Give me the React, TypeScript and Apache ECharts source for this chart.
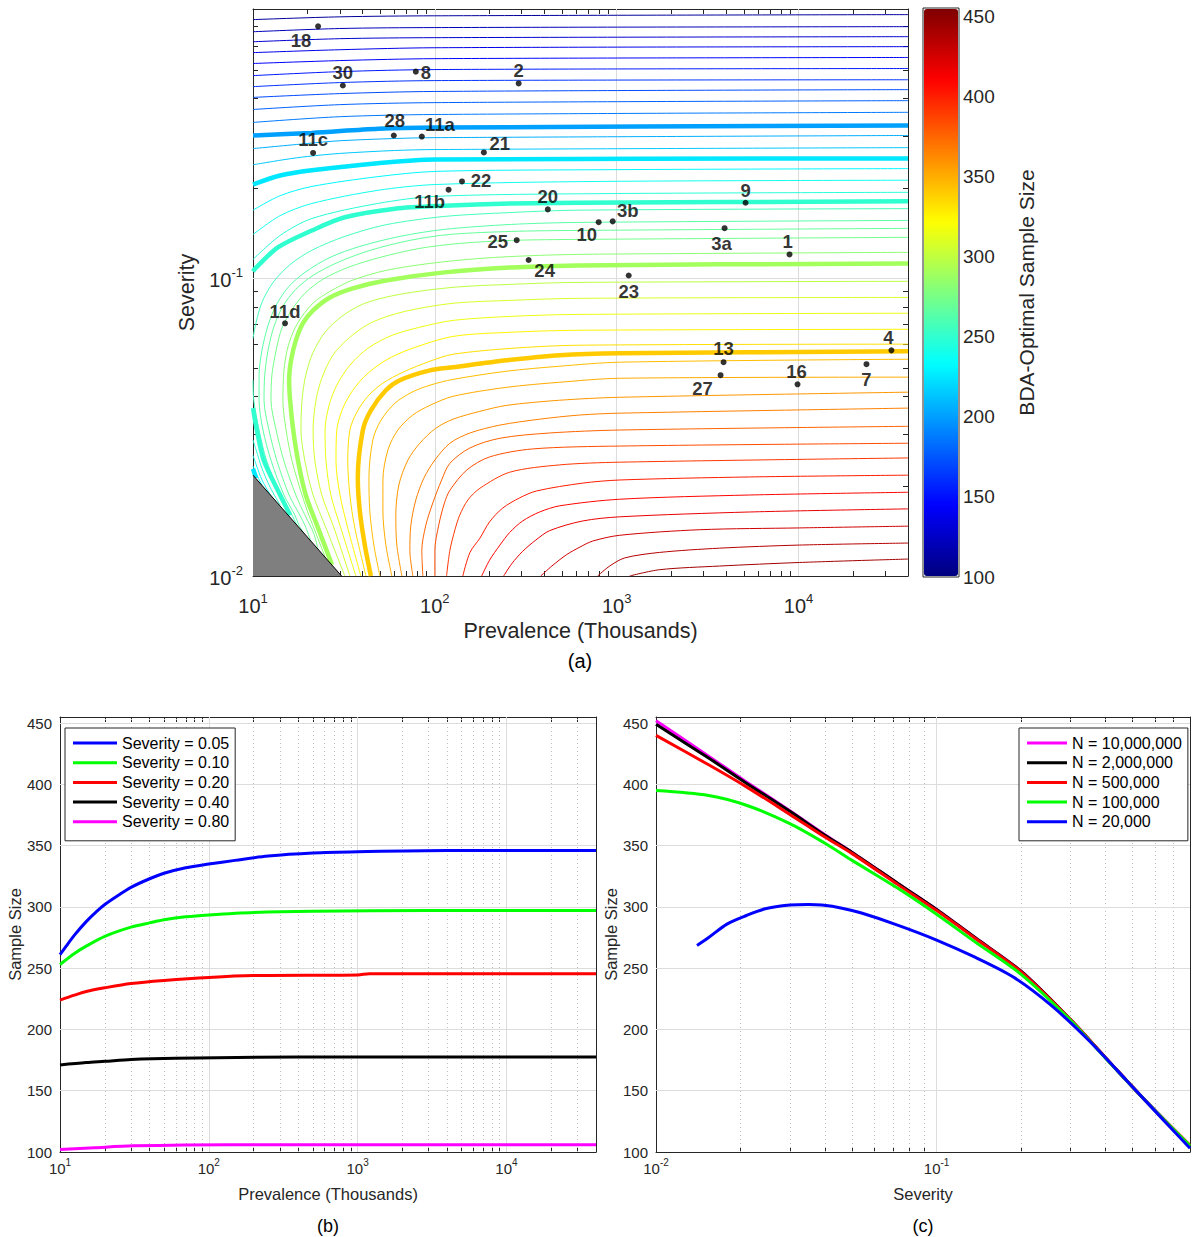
import React, { useEffect, useRef } from 'react';
import * as echarts from 'echarts';

const FONT = '"Liberation Sans", Arial, Helvetica, sans-serif';
const AXIS_COLOR = '#262626';
const GRID_MAJOR = '#DCDCDC';
const GRID_MINOR = '#BDBDBD';

// ---------------- (a) contour plot data ----------------
// Sample-size level of each contour line (one entry per drawn path)
const contourLevels = [
  110, 120, 128, 136, 144, 153, 162, 170, 178, 187,
  200, 205, 214, 225, 225, 231, 231, 239, 239, 247, 247, 250, 250, 257, 257,
  264, 268, 273, 282, 290, 299, 308, 316, 325, 333, 340,
  345, 351, 358, 366, 376, 384, 392, 401, 409, 418, 427, 436, 443,
];
const highlightedLevels = [200, 225, 250, 290, 340];

// [prevalence (thousands), severity] points along each contour
const contourPaths: number[][][] = [
  [[10, 0.737], [30, 0.753], [100, 0.759], [40000, 0.766]],
  [[10, 0.671], [30, 0.688], [100, 0.693], [40000, 0.698]],
  [[10, 0.621], [30, 0.636], [100, 0.641], [40000, 0.646]],
  [[10, 0.571], [30, 0.584], [100, 0.593], [40000, 0.598]],
  [[10, 0.525], [30, 0.537], [100, 0.545], [40000, 0.55]],
  [[10, 0.478], [30, 0.493], [100, 0.501], [40000, 0.505]],
  [[10, 0.439], [30, 0.453], [100, 0.46], [40000, 0.463]],
  [[10, 0.404], [30, 0.416], [100, 0.423], [40000, 0.429]],
  [[10, 0.368], [30, 0.382], [100, 0.388], [40000, 0.394]],
  [[10, 0.333], [30, 0.348], [100, 0.354], [40000, 0.36]],
  [[10, 0.301], [21, 0.307], [49, 0.317], [100, 0.32], [40000, 0.325]],
  [[10, 0.272], [20, 0.283], [30, 0.289], [60, 0.294], [100, 0.296], [40000, 0.301]],
  [[10, 0.24], [15, 0.25], [20, 0.256], [30, 0.262], [60, 0.268], [100, 0.27], [40000, 0.274]],
  [[10, 0.206], [14.1, 0.221], [21.1, 0.23], [48.6, 0.243], [100, 0.25], [40000, 0.252]],
  [[10, 0.0229], [10.4, 0.0213]],
  [[10, 0.169], [14.1, 0.189], [21.1, 0.203], [48.6, 0.219], [100, 0.228], [800, 0.231], [40000, 0.233]],
  [[10, 0.0234], [10.4, 0.0221], [11.2, 0.0202]],
  [[10, 0.14], [14.1, 0.162], [21.1, 0.178], [48.6, 0.197], [100, 0.206], [800, 0.211], [40000, 0.213]],
  [[10, 0.0254], [10.4, 0.0237], [11.2, 0.021], [12.6, 0.0185]],
  [[10, 0.1155], [14.1, 0.139], [21.1, 0.1585], [48.6, 0.178], [100, 0.188], [800, 0.192], [40000, 0.194]],
  [[10, 0.0286], [10.4, 0.0265], [11.2, 0.023], [12.4, 0.0199], [14.1, 0.0173]],
  [[10, 0.1053], [10.3, 0.1078], [13.7, 0.1267], [21.1, 0.1445], [32, 0.16], [60.3, 0.171], [113, 0.175], [265, 0.178], [611, 0.179], [40000, 0.181]],
  [[10, 0.0366], [10.5, 0.0309], [11.5, 0.0243], [14.1, 0.0187], [16, 0.016]],
  [[10, 0.0628], [10.4, 0.071], [11.2, 0.0829], [12.9, 0.0967], [16, 0.111], [21.1, 0.124], [32, 0.138], [53.8, 0.151], [113, 0.161], [265, 0.166], [611, 0.169], [40000, 0.171]],
  [[10, 0.0454], [10.1, 0.0389], [10.8, 0.0309], [11.9, 0.0243], [14.25, 0.0187], [16.4, 0.016], [17.45, 0.0148]],
  [[19.1, 0.0139], [17.9, 0.0148], [17, 0.016], [14.8, 0.0187], [12.6, 0.0243], [11.35, 0.0309], [10.8, 0.0389], [10.8, 0.0472], [11.2, 0.0572], [12.1, 0.0694], [13.4, 0.081], [15.6, 0.0931], [19.3, 0.1045], [26.5, 0.1173], [38.7, 0.1277], [64.2, 0.138], [113, 0.1457], [265, 0.1514], [611, 0.1537], [40000, 0.1561]],
  [[20.8, 0.0131], [19.3, 0.0148], [18.1, 0.016], [15.8, 0.0187], [13.55, 0.0243], [12.24, 0.0309], [11.5, 0.0389], [11.6, 0.0472], [12.1, 0.0572], [13.05, 0.0689], [14.6, 0.0804], [17.2, 0.0917], [21.4, 0.1021], [29.3, 0.1129], [43.9, 0.1238], [72.9, 0.1338], [121, 0.1401], [265, 0.1434], [611, 0.1445], [40000, 0.1468]],
  [[22.8, 0.0123], [21.6, 0.0139], [20.6, 0.0148], [19.3, 0.016], [17.2, 0.0187], [14.8, 0.0243], [13.4, 0.0309], [12.56, 0.0389], [12.7, 0.0472], [13.4, 0.0572], [14.4, 0.0678], [16.4, 0.0785], [19.3, 0.0889], [24.2, 0.099], [33.3, 0.1086], [49.9, 0.1173], [82.7, 0.1258], [137, 0.1307], [265, 0.1338], [611, 0.1348], [40000, 0.137]],
  [[24.9, 0.0116], [22.2, 0.0139], [20.3, 0.016], [18.6, 0.0187], [16.4, 0.0243], [15.2, 0.0309], [14.6, 0.0389], [14.8, 0.049], [15.4, 0.0572], [16.6, 0.0658], [18.6, 0.0744], [21.6, 0.0829], [26.5, 0.0902], [35, 0.0982], [53.8, 0.1061], [94, 0.112], [177, 0.1164], [377, 0.1192], [807, 0.1203], [40000, 0.122]],
  [[27.2, 0.0109], [22.8, 0.0145], [19.5, 0.0187], [17.7, 0.0243], [16.6, 0.0313], [16, 0.0389], [15.8, 0.0454], [16.2, 0.053], [17.2, 0.0618], [18.8, 0.0705], [21.4, 0.0779], [26.5, 0.0861], [35.4, 0.0924], [53.8, 0.0982], [113, 0.1045], [265, 0.1086], [611, 0.1103], [40000, 0.112]],
  [[32, 0.01], [25.2, 0.0145], [21.4, 0.0187], [19.3, 0.0243], [18.35, 0.0309], [18.6, 0.0389], [19.5, 0.0472], [21.4, 0.0563], [24.9, 0.0658], [30.8, 0.0744], [41.2, 0.0823], [64.2, 0.0882], [126, 0.0931], [265, 0.0953], [611, 0.0967], [40000, 0.0975]],
  [[34.1, 0.01], [27.9, 0.0145], [23.9, 0.0187], [21.9, 0.0243], [21.4, 0.0309], [22.2, 0.0389], [23.9, 0.0461], [27.5, 0.0551], [34.1, 0.0633], [45, 0.071], [68.4, 0.0773], [126, 0.0823], [265, 0.0842], [611, 0.0855], [40000, 0.0861]],
  [[36.8, 0.01], [30.4, 0.0145], [26.8, 0.0187], [25.2, 0.0243], [24.9, 0.0309], [26.2, 0.0374], [28.9, 0.0437], [34.1, 0.051], [42.8, 0.0581], [58, 0.0642], [82.7, 0.0684], [126, 0.0721], [265, 0.0744], [611, 0.0755], [40000, 0.0762]],
  [[39.2, 0.01], [33.2, 0.0145], [30.1, 0.0187], [28.6, 0.0243], [28.9, 0.0309], [31.2, 0.0366], [35.4, 0.042], [42.3, 0.0476], [53.8, 0.053], [72.9, 0.0577], [126, 0.0637], [265, 0.0658], [611, 0.0668], [40000, 0.0673]],
  [[41.8, 0.01], [36.3, 0.0145], [34.1, 0.0187], [33.2, 0.0243], [34.1, 0.0309], [37.3, 0.0355], [42.8, 0.0401], [51.8, 0.0444], [66.7, 0.0483], [94, 0.0526], [126, 0.0555], [265, 0.0581], [611, 0.0595], [40000, 0.06]],
  [[44.5, 0.01], [41.2, 0.0127], [38.7, 0.0165], [37.7, 0.0213], [40.2, 0.0309], [44.5, 0.036], [53.8, 0.042], [64.2, 0.0454], [94, 0.049], [126, 0.0502], [249, 0.053], [486, 0.0551], [1040, 0.0559], [40000, 0.0568]],
  [[49.9, 0.01], [46.2, 0.0127], [43.9, 0.0165], [43.4, 0.0213], [45.6, 0.0286], [50.5, 0.0333], [60.3, 0.038], [74.8, 0.0414], [94, 0.0437], [126, 0.0457], [249, 0.0487], [486, 0.0506], [1040, 0.0522], [40000, 0.0534]],
  [[58, 0.01], [53.8, 0.0127], [51.8, 0.0165], [51.8, 0.021], [55.2, 0.0265], [62.6, 0.0309], [75.7, 0.0347], [94, 0.0374], [126, 0.0401], [249, 0.043], [486, 0.0447], [1040, 0.0461], [40000, 0.0465]],
  [[65.9, 0.01], [61.8, 0.0127], [61, 0.016], [63.4, 0.0202], [71.1, 0.0245], [82.7, 0.0279], [101, 0.0313], [126, 0.0336], [177, 0.0357], [249, 0.0374], [486, 0.0389], [1040, 0.0398], [40000, 0.0414]],
  [[75.7, 0.01], [72.9, 0.0122], [73.8, 0.0148], [78.6, 0.018], [87, 0.0213], [100, 0.0245], [121, 0.0279], [156, 0.0302], [228, 0.0321], [377, 0.0336], [627, 0.0347], [1040, 0.0352], [40000, 0.0366]],
  [[85.9, 0.01], [84.8, 0.0122], [89.2, 0.0148], [97.5, 0.0176], [109, 0.021], [121, 0.0239], [156, 0.0269], [228, 0.029], [428, 0.0302], [1040, 0.0309], [40000, 0.0318]],
  [[100, 0.01], [100, 0.0122], [105, 0.0148], [113, 0.0176], [121, 0.0194], [150, 0.0227], [200, 0.0251], [345, 0.0267], [1040, 0.0273], [40000, 0.0279]],
  [[116, 0.01], [121, 0.0122], [129, 0.0143], [137, 0.016], [152, 0.018], [177, 0.0197], [258, 0.0223], [486, 0.0236], [1040, 0.0241], [40000, 0.0249]],
  [[142.5, 0.01], [156, 0.012], [177, 0.0134], [200, 0.0152], [236, 0.0169], [293, 0.0183], [363, 0.0193], [650, 0.0205], [1040, 0.021], [5380, 0.0215], [40000, 0.0218]],
  [[181, 0.01], [200, 0.0113], [228, 0.0127], [258, 0.014], [304, 0.0153], [377, 0.0164], [486, 0.0172], [1040, 0.0181], [5380, 0.0187], [40000, 0.0191]],
  [[239, 0.01], [265, 0.011], [304, 0.0121], [359, 0.0132], [428, 0.0142], [650, 0.0153], [1040, 0.0158], [5380, 0.0164], [40000, 0.0168]],
  [[382, 0.01], [440, 0.0108], [531, 0.0118], [627, 0.0125], [738, 0.0131], [1040, 0.0137], [2860, 0.0143], [10100, 0.0145], [40000, 0.0147]],
  [[786, 0.01], [915, 0.0108], [1107, 0.0115], [1723, 0.012], [3681, 0.0124], [10100, 0.0127], [40000, 0.0129]],
  [[1178, 0.01], [1723, 0.0105], [3681, 0.0108], [10100, 0.0111], [40000, 0.0114]],
];

// excluded (gray) region edge
const excludedEdge = [[10, 0.0218], [30.7, 0.01]];

// labelled programmes
const pointNames = ['18', '30', '8', '2', '28', '11a', '11c', '21', '22', '11b', '20', '10', '3b', '9', '3a', '1', '25', '24', '23', '11d', '13', '27', '16', '7', '4'];
const pointPrevalence = [22.8, 31.2, 78.6, 289, 59.5, 84.8, 21.4, 186, 141, 119, 418, 796, 951, 5114, 3921, 8924, 282, 328, 1164, 15, 3871, 3727, 9874, 23640, 32430];
const pointSeverity = [0.70, 0.443, 0.493, 0.45, 0.301, 0.2985, 0.263, 0.264, 0.211, 0.198, 0.170, 0.154, 0.155, 0.179, 0.147, 0.120, 0.134, 0.115, 0.102, 0.0705, 0.0522, 0.0472, 0.044, 0.0514, 0.0572];

// ---------------- (b) sample size vs prevalence ----------------
const bSeriesNames = ['Severity = 0.05', 'Severity = 0.10', 'Severity = 0.20', 'Severity = 0.40', 'Severity = 0.80'];
const sev005 = [[10, 261], [11, 268], [12.5, 277], [15, 288], [17.5, 296], [20, 302], [25, 310], [30, 316], [40, 323], [50, 327.5], [70, 332], [100, 335], [150, 338], [250, 341.5], [500, 344], [1000, 345], [4000, 346], [40000, 346]];
const sev010 = [[10, 253], [12.5, 262], [15, 268], [20, 276], [30, 283.5], [40, 287], [50, 289.5], [70, 292], [100, 293.5], [200, 295.5], [500, 296.5], [3000, 297], [40000, 297]];
const sev020 = [[10, 224], [12.5, 228], [15, 231], [20, 234], [30, 237.5], [50, 240], [100, 242.5], [200, 244], [1000, 244.5], [1200, 245.5], [40000, 245.5]];
const sev040 = [[10, 171], [15, 173], [20, 174], [30, 175.5], [60, 176.5], [400, 177.5], [40000, 177.5]];
const sev080 = [[10, 102], [17.1, 103.5], [30.9, 105], [136, 106], [40000, 106]];

// ---------------- (c) sample size vs severity ----------------
const cSeriesNames = ['N = 10,000,000', 'N = 2,000,000', 'N = 500,000', 'N = 100,000', 'N = 20,000'];
const n10M = [[0.01, 452], [0.0154, 423], [0.021, 402], [0.03, 378.5], [0.04, 359], [0.05, 344.5], [0.073, 319], [0.1, 298], [0.137, 275], [0.2, 247.5], [0.3, 208], [0.4, 177], [0.56, 141], [0.8, 105]];
const n2M = [[0.01, 449], [0.0154, 421.5], [0.021, 401], [0.03, 378], [0.04, 358.5], [0.05, 344.5], [0.073, 319], [0.1, 298], [0.137, 275], [0.2, 247.5], [0.3, 208], [0.4, 177], [0.56, 141], [0.8, 105]];
const n500k = [[0.01, 440], [0.0154, 416], [0.021, 398], [0.03, 375.5], [0.04, 357], [0.05, 343.5], [0.073, 318], [0.1, 297], [0.137, 274.5], [0.2, 247], [0.3, 208], [0.4, 177], [0.56, 141], [0.8, 105.5]];
const n100k = [[0.01, 395], [0.0154, 391], [0.021, 383], [0.03, 368], [0.04, 352], [0.05, 338], [0.073, 315], [0.1, 294], [0.137, 271.5], [0.2, 245], [0.3, 207.5], [0.4, 176.5], [0.56, 141], [0.8, 105]];
const n20k = [[0.014, 268.5], [0.0154, 275], [0.0179, 286], [0.021, 293], [0.0245, 298.5], [0.03, 301.5], [0.035, 302], [0.039, 301.5], [0.046, 299], [0.054, 295], [0.073, 285], [0.1, 273], [0.137, 259], [0.187, 243], [0.255, 220], [0.349, 191], [0.477, 158], [0.65, 125], [0.8, 103]];

// tick positions
const prevTicks = [10, 20, 30, 40, 50, 60, 70, 80, 90, 100, 200, 300, 400, 500, 600, 700, 800, 900, 1000, 2000, 3000, 4000, 5000, 6000, 7000, 8000, 9000, 10000, 20000, 30000];
const sevTicks = [0.01, 0.02, 0.03, 0.04, 0.05, 0.06, 0.07, 0.08, 0.09, 0.1, 0.2, 0.3, 0.4, 0.5, 0.6, 0.7];
const prevMajor = [100, 1000, 10000];
const sevMajor = [0.1];
const sizeMajor = [150, 200, 250, 300, 350, 400, 450];

// ---- layout-only helpers ----
const labelOffsets: Record<string, number[]> = {
  '18': [-17, 14], '30': [0, -13], '8': [10, 1], '2': [0, -13], '28': [1, -15], '11a': [18, -12],
  '11c': [0, -13], '21': [16, -9], '22': [19, -1], '11b': [-19, 12], '20': [0, -13], '10': [-12, 12],
  '3b': [15, -11], '9': [0, -12], '3a': [-3, 15], '1': [-2, -13], '25': [-19, 1], '24': [16, 11],
  '23': [0, 16], '11d': [0, -12], '13': [0, -14], '27': [-18, 13], '16': [-1, -13], '7': [0, 15], '4': [-3, -13],
};

function clamp01(v: number) { return Math.max(0, Math.min(1, v)); }
function jet(t: number) {
  t = clamp01(t);
  const r = clamp01(Math.min(4 * t - 1.5, -4 * t + 4.5));
  const g = clamp01(Math.min(4 * t - 0.5, -4 * t + 3.5));
  const b = clamp01(Math.min(4 * t + 0.5, -4 * t + 2.5));
  return `rgb(${Math.round(r * 255)},${Math.round(g * 255)},${Math.round(b * 255)})`;
}
const jetStops = ['#00007F', '#0000FF', '#007FFF', '#00FFFF', '#7FFF7F', '#FFFF00', '#FF7F00', '#FF0000', '#7F0000'];

function powLabel(base: number, sup: number, lh: number, margin: number) {
  return {
    show: true,
    margin,
    formatter: (v: number) => {
      const e = Math.log10(v);
      const r = Math.round(e);
      if (Math.abs(e - r) > 1e-6) return '';
      return `{b|10}{s|${r}}`;
    },
    rich: {
      b: { fontSize: base, fontFamily: FONT, color: AXIS_COLOR, lineHeight: lh, verticalAlign: 'bottom' },
      s: { fontSize: sup, fontFamily: FONT, color: AXIS_COLOR, lineHeight: lh, verticalAlign: 'top' },
    },
  };
}

function logAxis(o: any) {
  return {
    type: 'log', logBase: 10, gridIndex: o.grid, position: o.position, min: o.min, max: o.max,
    axisLine: { show: true, onZero: false, lineStyle: { color: AXIS_COLOR, width: 1 } },
    axisTick: { show: true, inside: true, length: 5, customValues: o.ticks, lineStyle: { color: AXIS_COLOR, width: 1 } },
    axisLabel: o.labels ? powLabel(o.base, o.sup, o.lh, o.margin) : { show: false },
    splitLine: { show: false },
    minorTick: { show: false },
    minorSplitLine: { show: false },
    name: o.name || '',
    nameLocation: 'middle',
    nameGap: o.nameGap || 0,
    nameRotate: o.nameRotate || 0,
    nameTextStyle: { fontSize: o.nameSize || 16, fontFamily: FONT, color: AXIS_COLOR },
  };
}

function sizeAxis(grid: number, position: string, labels: boolean, name?: string) {
  return {
    type: 'value', gridIndex: grid, position, min: 100, max: 455, interval: 50,
    axisLine: { show: true, onZero: false, lineStyle: { color: AXIS_COLOR, width: 1 } },
    axisTick: { show: true, inside: true, length: 5, lineStyle: { color: AXIS_COLOR } },
    axisLabel: labels ? { show: true, fontSize: 15, fontFamily: FONT, color: AXIS_COLOR, margin: 8, showMaxLabel: false } : { show: false },
    splitLine: { show: false },
    name: name || '',
    nameLocation: 'middle',
    nameGap: 36,
    nameRotate: 90,
    nameTextStyle: { fontSize: 16.5, fontFamily: FONT, color: AXIS_COLOR },
  };
}

function gridLineMark(xMajor: number[], xMinor: number[], yMajor: number[]) {
  const data: any[] = [];
  xMinor.forEach((v) => data.push({ xAxis: v, lineStyle: { color: GRID_MINOR, width: 1, type: [1, 3] } }));
  xMajor.forEach((v) => data.push({ xAxis: v, lineStyle: { color: GRID_MAJOR, width: 1, type: 'solid' } }));
  yMajor.forEach((v) => data.push({ yAxis: v, lineStyle: { color: GRID_MAJOR, width: 1, type: 'solid' } }));
  return {
    silent: true, symbol: ['none', 'none'], z: 1, animation: false,
    label: { show: false }, emphasis: { disabled: true },
    data,
  };
}

function buildOption() {
  const series: any[] = [];

  // gray excluded region (a)
  series.push({
    type: 'line', xAxisIndex: 0, yAxisIndex: 0, data: excludedEdge, showSymbol: false, symbol: 'none', silent: true, z: 4,
    lineStyle: { color: '#000', width: 1 },
    areaStyle: { color: '#7F7F7F', opacity: 1, origin: 'start' },
    markLine: gridLineMark(prevMajor, [], sevMajor),
  });

  contourLevels.forEach((lvl, i) => {
    const thick = highlightedLevels.indexOf(lvl) >= 0;
    series.push({
      type: 'line', xAxisIndex: 0, yAxisIndex: 0, data: contourPaths[i], showSymbol: false, symbol: 'none',
      smooth: 0.3, silent: true, z: thick ? 3 : 2,
      lineStyle: { color: jet((lvl - 100) / 355), width: thick ? 4.5 : 1 },
    });
  });

  series.push({
    type: 'scatter', xAxisIndex: 0, yAxisIndex: 0, symbolSize: 6, z: 10, silent: true,
    itemStyle: { color: '#000' },
    label: { show: true, formatter: '{b}', position: 'inside', fontSize: 18.5, fontWeight: 'bold', fontFamily: FONT, color: '#000' },
    data: pointNames.map((n, i) => ({ name: n, value: [pointPrevalence[i], pointSeverity[i]], label: { offset: labelOffsets[n] } })),
  });

  const dummyIndex = series.length;
  series.push({ type: 'scatter', xAxisIndex: 6, yAxisIndex: 6, data: [] });

  // (b)
  const bData = [sev005, sev010, sev020, sev040, sev080];
  const bColors = ['#0000FF', '#00FF00', '#FF0000', '#000000', '#FF00FF'];
  const bMinor = prevTicks.filter((v) => prevMajor.indexOf(v) < 0 && v !== 10);
  bData.forEach((d, i) => {
    series.push({
      type: 'line', name: bSeriesNames[i], xAxisIndex: 2, yAxisIndex: 2, data: d, showSymbol: false, symbol: 'none',
      smooth: 0.3, silent: true, lineStyle: { color: bColors[i], width: 3 }, itemStyle: { color: bColors[i] },
      markLine: i === 0 ? gridLineMark(prevMajor, bMinor, sizeMajor) : undefined,
    });
  });

  // (c)
  const cData = [n10M, n2M, n500k, n100k, n20k];
  const cColors = ['#FF00FF', '#000000', '#FF0000', '#00FF00', '#0000FF'];
  const cMinor = sevTicks.filter((v) => sevMajor.indexOf(v) < 0 && v !== 0.01);
  cData.forEach((d, i) => {
    series.push({
      type: 'line', name: cSeriesNames[i], xAxisIndex: 4, yAxisIndex: 4, data: d, showSymbol: false, symbol: 'none',
      smooth: 0.3, silent: true, lineStyle: { color: cColors[i], width: 3 }, itemStyle: { color: cColors[i] },
      markLine: i === 0 ? gridLineMark(sevMajor, cMinor, sizeMajor) : undefined,
    });
  });

  const legendCommon = {
    orient: 'vertical', icon: 'rect', itemHeight: 3, itemGap: 3.7,
    backgroundColor: '#fff', borderColor: AXIS_COLOR, borderWidth: 1, borderRadius: 0,
    padding: [7, 6, 11, 8], selectedMode: false,
    textStyle: { fontSize: 16, fontFamily: FONT, color: '#000', lineHeight: 16 },
  };

  return {
    animation: false,
    backgroundColor: '#fff',
    grid: [
      { left: 253, top: 9, width: 655, height: 567, outerBoundsMode: 'none' },
      { left: 60, top: 717, width: 536, height: 435, outerBoundsMode: 'none' },
      { left: 656, top: 717, width: 534, height: 435, outerBoundsMode: 'none' },
      { left: 923, top: 8, width: 36, height: 569, show: true, borderColor: AXIS_COLOR, borderWidth: 1, backgroundColor: 'transparent', outerBoundsMode: 'none' },
    ],
    xAxis: [
      logAxis({ grid: 0, position: 'bottom', min: 10, max: 40000, ticks: prevTicks, labels: true, base: 20, sup: 13, lh: 24, margin: 16, name: 'Prevalence (Thousands)', nameGap: 44, nameSize: 21.5 }),
      logAxis({ grid: 0, position: 'top', min: 10, max: 40000, ticks: prevTicks, labels: false }),
      logAxis({ grid: 1, position: 'bottom', min: 10, max: 40000, ticks: prevTicks, labels: true, base: 15, sup: 10, lh: 19, margin: 5, name: 'Prevalence (Thousands)', nameGap: 33, nameSize: 16.5 }),
      logAxis({ grid: 1, position: 'top', min: 10, max: 40000, ticks: prevTicks, labels: false }),
      logAxis({ grid: 2, position: 'bottom', min: 0.01, max: 0.8, ticks: sevTicks, labels: true, base: 15, sup: 10, lh: 19, margin: 5, name: 'Severity', nameGap: 33, nameSize: 16.5 }),
      logAxis({ grid: 2, position: 'top', min: 0.01, max: 0.8, ticks: sevTicks, labels: false }),
      { type: 'value', gridIndex: 3, show: false, min: 0, max: 1 },
    ],
    yAxis: [
      logAxis({ grid: 0, position: 'left', min: 0.01, max: 0.8, ticks: sevTicks, labels: true, base: 20, sup: 13, lh: 24, margin: 10, name: 'Severity', nameGap: 54, nameRotate: 90, nameSize: 21.5 }),
      logAxis({ grid: 0, position: 'right', min: 0.01, max: 0.8, ticks: sevTicks, labels: false }),
      sizeAxis(1, 'left', true, 'Sample Size'),
      sizeAxis(1, 'right', false),
      sizeAxis(2, 'left', true, 'Sample Size'),
      sizeAxis(2, 'right', false),
      {
        type: 'value', gridIndex: 3, position: 'right', min: 100, max: 455, interval: 50,
        axisLine: { show: false }, axisTick: { show: false }, splitLine: { show: false },
        axisLabel: { show: true, fontSize: 19, fontFamily: FONT, color: AXIS_COLOR, margin: 4, showMaxLabel: false },
        name: 'BDA-Optimal Sample Size', nameLocation: 'middle', nameGap: 57, nameRotate: 90,
        nameTextStyle: { fontSize: 21, fontFamily: FONT, color: AXIS_COLOR },
      },
    ],
    visualMap: [{
      type: 'continuous', min: 100, max: 455, seriesIndex: [dummyIndex], calculable: false, realtime: false,
      left: 924, top: 9, itemWidth: 34, itemHeight: 567, padding: 0, orient: 'vertical',
      inRange: { color: jetStops }, text: null, showLabel: false, hoverLink: false,
    }],
    legend: [
      { ...legendCommon, data: bSeriesNames, left: 65, top: 728, itemWidth: 44 },
      { ...legendCommon, data: cSeriesNames, left: 1019, top: 728, itemWidth: 40 },
    ],
    graphic: [
      { type: 'text', x: 580, y: 661, style: { text: '(a)', fontSize: 20, fontFamily: FONT, fill: '#000', textAlign: 'center', textVerticalAlign: 'middle' } },
      { type: 'text', x: 328, y: 1226, style: { text: '(b)', fontSize: 18, fontFamily: FONT, fill: '#000', textAlign: 'center', textVerticalAlign: 'middle' } },
      { type: 'text', x: 923, y: 1226, style: { text: '(c)', fontSize: 18, fontFamily: FONT, fill: '#000', textAlign: 'center', textVerticalAlign: 'middle' } },
    ],
    series,
  };
}

export default function App() {
  const ref = useRef<HTMLDivElement>(null);
  useEffect(() => {
    if (!ref.current) return;
    const chart = echarts.init(ref.current, null, { renderer: 'svg' });
    chart.setOption(buildOption() as any);
    return () => chart.dispose();
  }, []);
  return <div ref={ref} style={{ position: 'absolute', left: 0, top: 0, width: 1193, height: 1237, background: '#fff' }} />;
}
